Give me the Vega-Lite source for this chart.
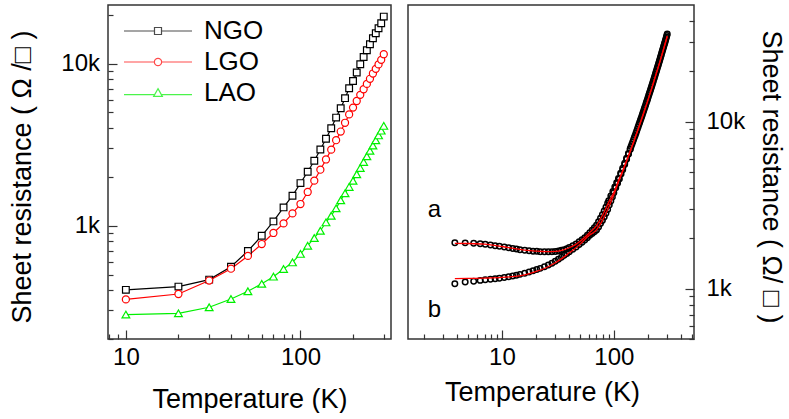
{
  "$schema": "https://vega.github.io/schema/vega-lite/v6.json",
  "background": "white",
  "padding": {"left": 8, "top": 4, "right": 0, "bottom": 0},
  "spacing": 15,
  "config": {
    "font": "Liberation Sans",
    "view": {"stroke": "#333333", "strokeWidth": 1.5},
    "axis": {
      "domain": false,
      "grid": false,
      "labelFont": "Liberation Sans",
      "labelFontSize": 24,
      "labelColor": "#000000",
      "titleFont": "Liberation Sans",
      "titleFontSize": 27,
      "titleFontWeight": "normal",
      "titleColor": "#000000",
      "tickColor": "#333333",
      "tickWidth": 1.2
    }
  },
  "datasets": {
    "left": [
      {"s": "NGO", "T": 10, "R": 402}, {"s": "NGO", "T": 20, "R": 421}, {"s": "NGO", "T": 30, "R": 465}, {"s": "NGO", "T": 40, "R": 559}, {"s": "NGO", "T": 50, "R": 698},
      {"s": "NGO", "T": 60, "R": 867}, {"s": "NGO", "T": 70, "R": 1063}, {"s": "NGO", "T": 80, "R": 1297}, {"s": "NGO", "T": 90, "R": 1531}, {"s": "NGO", "T": 100, "R": 1832},
      {"s": "NGO", "T": 110, "R": 2153}, {"s": "NGO", "T": 120, "R": 2514}, {"s": "NGO", "T": 130, "R": 2951}, {"s": "NGO", "T": 140, "R": 3436}, {"s": "NGO", "T": 150, "R": 3997},
      {"s": "NGO", "T": 160, "R": 4646}, {"s": "NGO", "T": 170, "R": 5311}, {"s": "NGO", "T": 180, "R": 6122}, {"s": "NGO", "T": 190, "R": 7048}, {"s": "NGO", "T": 200, "R": 7818},
      {"s": "NGO", "T": 210, "R": 8810}, {"s": "NGO", "T": 220, "R": 9910}, {"s": "NGO", "T": 230, "R": 10990}, {"s": "NGO", "T": 240, "R": 12100}, {"s": "NGO", "T": 250, "R": 13180},
      {"s": "NGO", "T": 260, "R": 14350}, {"s": "NGO", "T": 270, "R": 15390}, {"s": "NGO", "T": 280, "R": 16520}, {"s": "NGO", "T": 290, "R": 17730}, {"s": "NGO", "T": 300, "R": 19500},
      {"s": "LGO", "T": 10, "R": 351}, {"s": "LGO", "T": 20, "R": 379}, {"s": "LGO", "T": 30, "R": 459}, {"s": "LGO", "T": 40, "R": 543}, {"s": "LGO", "T": 50, "R": 651},
      {"s": "LGO", "T": 60, "R": 771}, {"s": "LGO", "T": 70, "R": 902}, {"s": "LGO", "T": 80, "R": 1033}, {"s": "LGO", "T": 90, "R": 1191}, {"s": "LGO", "T": 100, "R": 1361},
      {"s": "LGO", "T": 110, "R": 1615}, {"s": "LGO", "T": 120, "R": 1896}, {"s": "LGO", "T": 130, "R": 2216}, {"s": "LGO", "T": 140, "R": 2562}, {"s": "LGO", "T": 150, "R": 2947},
      {"s": "LGO", "T": 160, "R": 3370}, {"s": "LGO", "T": 170, "R": 3810}, {"s": "LGO", "T": 180, "R": 4315}, {"s": "LGO", "T": 190, "R": 4862}, {"s": "LGO", "T": 200, "R": 5355},
      {"s": "LGO", "T": 210, "R": 5880}, {"s": "LGO", "T": 220, "R": 6420}, {"s": "LGO", "T": 230, "R": 6950}, {"s": "LGO", "T": 240, "R": 7500}, {"s": "LGO", "T": 250, "R": 8060},
      {"s": "LGO", "T": 260, "R": 8690}, {"s": "LGO", "T": 270, "R": 9290}, {"s": "LGO", "T": 280, "R": 9890}, {"s": "LGO", "T": 290, "R": 10550}, {"s": "LGO", "T": 300, "R": 11430},
      {"s": "LAO", "T": 10, "R": 283}, {"s": "LAO", "T": 20, "R": 288}, {"s": "LAO", "T": 30, "R": 314}, {"s": "LAO", "T": 40, "R": 353}, {"s": "LAO", "T": 50, "R": 394},
      {"s": "LAO", "T": 60, "R": 438}, {"s": "LAO", "T": 70, "R": 485}, {"s": "LAO", "T": 80, "R": 541}, {"s": "LAO", "T": 90, "R": 594}, {"s": "LAO", "T": 100, "R": 670},
      {"s": "LAO", "T": 110, "R": 753}, {"s": "LAO", "T": 120, "R": 840}, {"s": "LAO", "T": 130, "R": 931}, {"s": "LAO", "T": 140, "R": 1048}, {"s": "LAO", "T": 150, "R": 1152},
      {"s": "LAO", "T": 160, "R": 1280}, {"s": "LAO", "T": 170, "R": 1436}, {"s": "LAO", "T": 180, "R": 1584}, {"s": "LAO", "T": 190, "R": 1735}, {"s": "LAO", "T": 200, "R": 1893},
      {"s": "LAO", "T": 210, "R": 2077}, {"s": "LAO", "T": 220, "R": 2272}, {"s": "LAO", "T": 230, "R": 2474}, {"s": "LAO", "T": 240, "R": 2682}, {"s": "LAO", "T": 250, "R": 2897},
      {"s": "LAO", "T": 260, "R": 3126}, {"s": "LAO", "T": 270, "R": 3362}, {"s": "LAO", "T": 280, "R": 3608}, {"s": "LAO", "T": 290, "R": 3860}, {"s": "LAO", "T": 300, "R": 4130}
    ],
    "right": [
      {"c": "a", "T": 3.8, "R": 1884}, {"c": "a", "T": 4.7, "R": 1882}, {"c": "a", "T": 5.6, "R": 1871}, {"c": "a", "T": 6.4, "R": 1857}, {"c": "a", "T": 7.1, "R": 1844},
      {"c": "a", "T": 7.9, "R": 1828}, {"c": "a", "T": 8.7, "R": 1811}, {"c": "a", "T": 9.5, "R": 1799}, {"c": "a", "T": 10.5, "R": 1778}, {"c": "a", "T": 11.5, "R": 1762},
      {"c": "a", "T": 12.5, "R": 1741}, {"c": "a", "T": 13.5, "R": 1729}, {"c": "a", "T": 14.5, "R": 1713}, {"c": "a", "T": 16, "R": 1698}, {"c": "a", "T": 17.5, "R": 1690},
      {"c": "a", "T": 19, "R": 1679}, {"c": "a", "T": 20.5, "R": 1675}, {"c": "a", "T": 22, "R": 1667}, {"c": "a", "T": 24, "R": 1663}, {"c": "a", "T": 26, "R": 1663},
      {"c": "a", "T": 28, "R": 1667}, {"c": "a", "T": 30, "R": 1671}, {"c": "a", "T": 32, "R": 1683}, {"c": "a", "T": 34, "R": 1698}, {"c": "a", "T": 36, "R": 1713},
      {"c": "a", "T": 38, "R": 1738}, {"c": "a", "T": 40, "R": 1766}, {"c": "a", "T": 43, "R": 1807}, {"c": "a", "T": 46, "R": 1854}, {"c": "a", "T": 49, "R": 1910},
      {"c": "a", "T": 52, "R": 1963}, {"c": "a", "T": 55, "R": 2023}, {"c": "a", "T": 58, "R": 2089}, {"c": "a", "T": 61, "R": 2163}, {"c": "a", "T": 64, "R": 2239},
      {"c": "a", "T": 67, "R": 2318}, {"c": "a", "T": 70, "R": 2399}, {"c": "a", "T": 73, "R": 2518}, {"c": "a", "T": 76, "R": 2642}, {"c": "a", "T": 79, "R": 2773},
      {"c": "a", "T": 82, "R": 2917}, {"c": "a", "T": 85, "R": 3076}, {"c": "a", "T": 88, "R": 3251}, {"c": "a", "T": 90, "R": 3365}, {"c": "a", "T": 94, "R": 3589},
      {"c": "a", "T": 98, "R": 3819}, {"c": "a", "T": 102, "R": 4064}, {"c": "a", "T": 106, "R": 4315}, {"c": "a", "T": 110, "R": 4571}, {"c": "a", "T": 115, "R": 4921},
      {"c": "a", "T": 120, "R": 5272}, {"c": "a", "T": 125, "R": 5649}, {"c": "a", "T": 130, "R": 6039}, {"c": "a", "T": 135, "R": 6457}, {"c": "a", "T": 140, "R": 6887},
      {"c": "a", "T": 145, "R": 7328}, {"c": "a", "T": 150, "R": 7798}, {"c": "a", "T": 155, "R": 8279}, {"c": "a", "T": 160, "R": 8790}, {"c": "a", "T": 165, "R": 9333},
      {"c": "a", "T": 170, "R": 9886}, {"c": "a", "T": 175, "R": 10447}, {"c": "a", "T": 180, "R": 11041}, {"c": "a", "T": 185, "R": 11668}, {"c": "a", "T": 190, "R": 12303},
      {"c": "a", "T": 195, "R": 12972}, {"c": "a", "T": 200, "R": 13646}, {"c": "a", "T": 205, "R": 14388}, {"c": "a", "T": 210, "R": 15101}, {"c": "a", "T": 215, "R": 15888},
      {"c": "a", "T": 220, "R": 16672}, {"c": "a", "T": 225, "R": 17498}, {"c": "a", "T": 230, "R": 18365}, {"c": "a", "T": 235, "R": 19231}, {"c": "a", "T": 240, "R": 20137},
      {"c": "a", "T": 245, "R": 21086}, {"c": "a", "T": 250, "R": 22029}, {"c": "a", "T": 255, "R": 23014}, {"c": "a", "T": 260, "R": 24044}, {"c": "a", "T": 265, "R": 25119},
      {"c": "a", "T": 270, "R": 26242}, {"c": "a", "T": 275, "R": 27353}, {"c": "a", "T": 280, "R": 28510}, {"c": "a", "T": 285, "R": 29648}, {"c": "a", "T": 290, "R": 30903},
      {"c": "a", "T": 295, "R": 32137}, {"c": "a", "T": 300, "R": 33497},
      {"c": "b", "T": 3.8, "R": 1072}, {"c": "b", "T": 4.7, "R": 1096}, {"c": "b", "T": 5.6, "R": 1109}, {"c": "b", "T": 6.4, "R": 1122}, {"c": "b", "T": 7.1, "R": 1130},
      {"c": "b", "T": 7.9, "R": 1138}, {"c": "b", "T": 8.7, "R": 1146}, {"c": "b", "T": 9.5, "R": 1156}, {"c": "b", "T": 10.5, "R": 1167}, {"c": "b", "T": 11.5, "R": 1180},
      {"c": "b", "T": 12.5, "R": 1191}, {"c": "b", "T": 13.5, "R": 1205}, {"c": "b", "T": 14.5, "R": 1219}, {"c": "b", "T": 16, "R": 1239}, {"c": "b", "T": 17.5, "R": 1259},
      {"c": "b", "T": 19, "R": 1282}, {"c": "b", "T": 20.5, "R": 1303}, {"c": "b", "T": 22, "R": 1324}, {"c": "b", "T": 24, "R": 1355}, {"c": "b", "T": 26, "R": 1387},
      {"c": "b", "T": 28, "R": 1422}, {"c": "b", "T": 30, "R": 1459}, {"c": "b", "T": 32, "R": 1500}, {"c": "b", "T": 34, "R": 1542}, {"c": "b", "T": 36, "R": 1585},
      {"c": "b", "T": 38, "R": 1626}, {"c": "b", "T": 40, "R": 1667}, {"c": "b", "T": 43, "R": 1722}, {"c": "b", "T": 46, "R": 1778}, {"c": "b", "T": 49, "R": 1837},
      {"c": "b", "T": 52, "R": 1897}, {"c": "b", "T": 55, "R": 1959}, {"c": "b", "T": 58, "R": 2023}, {"c": "b", "T": 61, "R": 2089}, {"c": "b", "T": 64, "R": 2140},
      {"c": "b", "T": 67, "R": 2190}, {"c": "b", "T": 70, "R": 2249}, {"c": "b", "T": 73, "R": 2344}, {"c": "b", "T": 76, "R": 2455}, {"c": "b", "T": 79, "R": 2564},
      {"c": "b", "T": 82, "R": 2692}, {"c": "b", "T": 85, "R": 2831}, {"c": "b", "T": 88, "R": 2985}, {"c": "b", "T": 91, "R": 3177}, {"c": "b", "T": 94, "R": 3350},
      {"c": "b", "T": 97, "R": 3548}, {"c": "b", "T": 100, "R": 3758}, {"c": "b", "T": 104, "R": 4027}, {"c": "b", "T": 108, "R": 4285}, {"c": "b", "T": 112, "R": 4539},
      {"c": "b", "T": 116, "R": 4864}, {"c": "b", "T": 120, "R": 5152}, {"c": "b", "T": 125, "R": 5546}, {"c": "b", "T": 130, "R": 5957}, {"c": "b", "T": 135, "R": 6383},
      {"c": "b", "T": 140, "R": 6823}, {"c": "b", "T": 142.5, "R": 7108}, {"c": "b", "T": 147.5, "R": 7563}, {"c": "b", "T": 152.5, "R": 8039}, {"c": "b", "T": 157.5, "R": 8535},
      {"c": "b", "T": 162.5, "R": 9062}, {"c": "b", "T": 167.5, "R": 9610}, {"c": "b", "T": 172.5, "R": 10167}, {"c": "b", "T": 177.5, "R": 10744}, {"c": "b", "T": 182.5, "R": 11355},
      {"c": "b", "T": 187.5, "R": 11986}, {"c": "b", "T": 192.5, "R": 12638}, {"c": "b", "T": 197.5, "R": 13309}, {"c": "b", "T": 202.5, "R": 14017}, {"c": "b", "T": 207.5, "R": 14745},
      {"c": "b", "T": 212.5, "R": 15495}, {"c": "b", "T": 217.5, "R": 16280}, {"c": "b", "T": 222.5, "R": 17085}, {"c": "b", "T": 227.5, "R": 17932}, {"c": "b", "T": 232.5, "R": 18798},
      {"c": "b", "T": 237.5, "R": 19684}, {"c": "b", "T": 242.5, "R": 20612}, {"c": "b", "T": 247.5, "R": 21558}, {"c": "b", "T": 252.5, "R": 22522}, {"c": "b", "T": 257.5, "R": 23529},
      {"c": "b", "T": 262.5, "R": 24582}, {"c": "b", "T": 267.5, "R": 25681}, {"c": "b", "T": 272.5, "R": 26798}, {"c": "b", "T": 277.5, "R": 27932}, {"c": "b", "T": 282.5, "R": 29079},
      {"c": "b", "T": 287.5, "R": 30276}, {"c": "b", "T": 292.5, "R": 31520}, {"c": "b", "T": 297.5, "R": 32817}
    ],
    "fit": [
      {"c": "a", "T": 3.8, "R": 1870}, {"c": "a", "T": 5, "R": 1866}, {"c": "a", "T": 7, "R": 1848}, {"c": "a", "T": 10, "R": 1790}, {"c": "a", "T": 13, "R": 1740},
      {"c": "a", "T": 16, "R": 1705}, {"c": "a", "T": 20, "R": 1680}, {"c": "a", "T": 25, "R": 1666}, {"c": "a", "T": 30, "R": 1672}, {"c": "a", "T": 35, "R": 1705},
      {"c": "a", "T": 40, "R": 1760}, {"c": "a", "T": 45, "R": 1830}, {"c": "a", "T": 50, "R": 1925}, {"c": "a", "T": 60, "R": 2150}, {"c": "a", "T": 70, "R": 2390},
      {"c": "a", "T": 80, "R": 2790}, {"c": "a", "T": 90, "R": 3300}, {"c": "a", "T": 100, "R": 3780}, {"c": "a", "T": 110, "R": 4440}, {"c": "a", "T": 120, "R": 5110},
      {"c": "a", "T": 130, "R": 5860}, {"c": "a", "T": 140, "R": 6680}, {"c": "a", "T": 160, "R": 8530}, {"c": "a", "T": 180, "R": 10710}, {"c": "a", "T": 200, "R": 13240},
      {"c": "a", "T": 220, "R": 16170}, {"c": "a", "T": 240, "R": 19530}, {"c": "a", "T": 260, "R": 23320}, {"c": "a", "T": 280, "R": 27650}, {"c": "a", "T": 300, "R": 32490},
      {"c": "b", "T": 3.8, "R": 1149}, {"c": "b", "T": 5, "R": 1152}, {"c": "b", "T": 7, "R": 1158}, {"c": "b", "T": 10, "R": 1168}, {"c": "b", "T": 13, "R": 1185},
      {"c": "b", "T": 16, "R": 1210}, {"c": "b", "T": 20, "R": 1265}, {"c": "b", "T": 25, "R": 1340}, {"c": "b", "T": 30, "R": 1430}, {"c": "b", "T": 35, "R": 1530},
      {"c": "b", "T": 40, "R": 1640}, {"c": "b", "T": 45, "R": 1740}, {"c": "b", "T": 50, "R": 1850}, {"c": "b", "T": 60, "R": 2080}, {"c": "b", "T": 70, "R": 2250},
      {"c": "b", "T": 80, "R": 2600}, {"c": "b", "T": 90, "R": 3080}, {"c": "b", "T": 100, "R": 3650}, {"c": "b", "T": 110, "R": 4350}, {"c": "b", "T": 120, "R": 5030},
      {"c": "b", "T": 130, "R": 5800}, {"c": "b", "T": 140, "R": 6620}, {"c": "b", "T": 160, "R": 8530}, {"c": "b", "T": 180, "R": 10710}, {"c": "b", "T": 200, "R": 13240},
      {"c": "b", "T": 220, "R": 16170}, {"c": "b", "T": 240, "R": 19530}, {"c": "b", "T": 260, "R": 23320}, {"c": "b", "T": 280, "R": 27650}, {"c": "b", "T": 300, "R": 32490}
    ],
    "labels": [
      {"c": "a", "T": 2.5, "R": 2970},
      {"c": "b", "T": 2.5, "R": 750}
    ]
  },
  "hconcat": [
    {
      "width": 283,
      "height": 334,
      "data": {"name": "left"},
      "encoding": {
        "x": {
          "field": "T", "type": "quantitative",
          "scale": {"type": "log", "domain": [7.9, 330], "nice": false},
          "axis": {
            "title": "Temperature (K)",
            "values": [8, 9, 10, 20, 30, 40, 50, 60, 70, 80, 90, 100, 200, 300],
            "labelExpr": "datum.value == 10 || datum.value == 100 ? format(datum.value, 'd') : ''",
            "tickSize": {"condition": {"test": "datum.value == 10 || datum.value == 100", "value": -9}, "value": -5},
            "labelPadding": 15,
            "titlePadding": 17
          }
        },
        "y": {
          "field": "R", "type": "quantitative",
          "scale": {"type": "log", "domain": [200, 23000], "nice": false},
          "axis": {
            "title": "Sheet resistance ( Ω /□ )",
            "values": [200, 300, 400, 500, 600, 700, 800, 900, 1000, 2000, 3000, 4000, 5000, 6000, 7000, 8000, 9000, 10000, 20000],
            "labelExpr": "datum.value == 1000 ? '1k' : datum.value == 10000 ? '10k' : ''",
            "tickSize": {"condition": {"test": "datum.value == 1000 || datum.value == 10000", "value": -9}, "value": -5},
            "labelPadding": 17.5,
            "titlePadding": 24,
            "titleY": 171.5
          }
        }
      },
      "layer": [
        {
          "transform": [{"filter": "datum.s == 'NGO'"}],
          "mark": {"type": "line", "strokeWidth": 1.2, "color": "#000000"}
        },
        {
          "transform": [{"filter": "datum.s == 'LGO'"}],
          "mark": {"type": "line", "strokeWidth": 1.2, "color": "#ff0000"}
        },
        {
          "transform": [{"filter": "datum.s == 'LAO'"}],
          "mark": {"type": "line", "strokeWidth": 1.2, "color": "#00f000"}
        },
        {
          "transform": [{"filter": "datum.s == 'NGO'"}],
          "mark": {"type": "point", "shape": "square", "filled": false, "fill": "white", "fillOpacity": 1, "stroke": "#000000", "size": 45, "strokeWidth": 1.2, "opacity": 1}
        },
        {
          "transform": [{"filter": "datum.s == 'LGO'"}],
          "mark": {"type": "point", "shape": "circle", "filled": false, "fill": "white", "fillOpacity": 1, "stroke": "#ff0000", "size": 50, "strokeWidth": 1.2, "opacity": 1}
        },
        {
          "transform": [{"filter": "datum.s == 'LAO'"}],
          "mark": {"type": "point", "shape": "triangle-up", "filled": false, "fill": "white", "fillOpacity": 1, "stroke": "#00f000", "size": 60, "strokeWidth": 1.2, "opacity": 1}
        },
        {
          "transform": [{"filter": "false"}],
          "mark": {"type": "point", "filled": false, "strokeWidth": 1.2},
          "encoding": {
            "color": {
              "field": "s", "type": "nominal",
              "scale": {"domain": ["NGO", "LGO", "LAO"], "range": ["#000000", "#ff0000", "#00f000"]},
              "legend": {
                "orient": "none", "legendX": 37, "legendY": 13, "title": null, "padding": 0,
                "rowPadding": 5, "symbolSize": 196, "symbolStrokeWidth": 1.2,
                "labelFontSize": 26, "labelFont": "Liberation Sans", "labelColor": "#000000", "labelOffset": 33
              }
            },
            "shape": {
              "field": "s", "type": "nominal",
              "scale": {
                "domain": ["NGO", "LGO", "LAO"],
                "range": [
                  "M-4.86,0H-0.5M0.5,0H4.86M-0.5,-0.5H0.5V0.5H-0.5Z",
                  "M-4.86,0H-0.52M0.52,0H4.86M-0.52,0A0.52,0.52,0,1,1,0.52,0A0.52,0.52,0,1,1,-0.52,0Z",
                  "M-4.86,0.24H-0.48M0.48,0.24H4.86M0,-0.62L0.62,0.48H-0.62Z"
                ]
              },
              "legend": {
                "orient": "none", "legendX": 37, "legendY": 13, "title": null, "padding": 0,
                "rowPadding": 5, "symbolSize": 196, "symbolStrokeWidth": 1.2,
                "labelFontSize": 26, "labelFont": "Liberation Sans", "labelColor": "#000000", "labelOffset": 33
              }
            }
          }
        }
      ]
    },
    {
      "width": 286,
      "height": 334,
      "encoding": {
        "x": {
          "field": "T", "type": "quantitative",
          "scale": {"type": "log", "domain": [1.45, 520], "nice": false},
          "axis": {
            "title": "Temperature (K)",
            "values": [2, 3, 4, 5, 6, 7, 8, 9, 10, 20, 30, 40, 50, 60, 70, 80, 90, 100, 200, 300, 400, 500],
            "labelExpr": "datum.value == 10 || datum.value == 100 ? format(datum.value, 'd') : ''",
            "tickSize": {"condition": {"test": "datum.value == 10 || datum.value == 100", "value": -9}, "value": -5},
            "labelPadding": 15,
            "titlePadding": 10,
            "titleX": 134
          }
        },
        "y": {
          "field": "R", "type": "quantitative",
          "scale": {"type": "log", "domain": [500, 50000], "nice": false},
          "axis": {
            "orient": "right",
            "title": "Sheet resistance ( Ω/ □ )",
            "values": [500, 600, 700, 800, 900, 1000, 2000, 3000, 4000, 5000, 6000, 7000, 8000, 9000, 10000, 20000, 30000, 40000],
            "labelExpr": "datum.value == 1000 ? '1k' : datum.value == 10000 ? '10k' : ''",
            "tickSize": {"condition": {"test": "datum.value == 1000 || datum.value == 10000", "value": -9}, "value": -5},
            "labelPadding": 21,
            "titlePadding": 12,
            "titleY": 171.5
          }
        }
      },
      "layer": [
        {
          "data": {"name": "right"},
          "mark": {"type": "point", "shape": "circle", "filled": false, "stroke": "#000000", "size": 30, "strokeWidth": 1.5, "opacity": 1}
        },
        {
          "data": {"name": "fit"},
          "mark": {"type": "line", "color": "#ff0000", "strokeWidth": 1.3, "interpolate": "monotone"},
          "encoding": {"detail": {"field": "c", "type": "nominal"}}
        },
        {
          "data": {"name": "labels"},
          "mark": {"type": "text", "fontSize": 24, "font": "Liberation Sans", "color": "#000000", "align": "center", "baseline": "middle"},
          "encoding": {"text": {"field": "c", "type": "nominal"}}
        }
      ]
    }
  ]
}
